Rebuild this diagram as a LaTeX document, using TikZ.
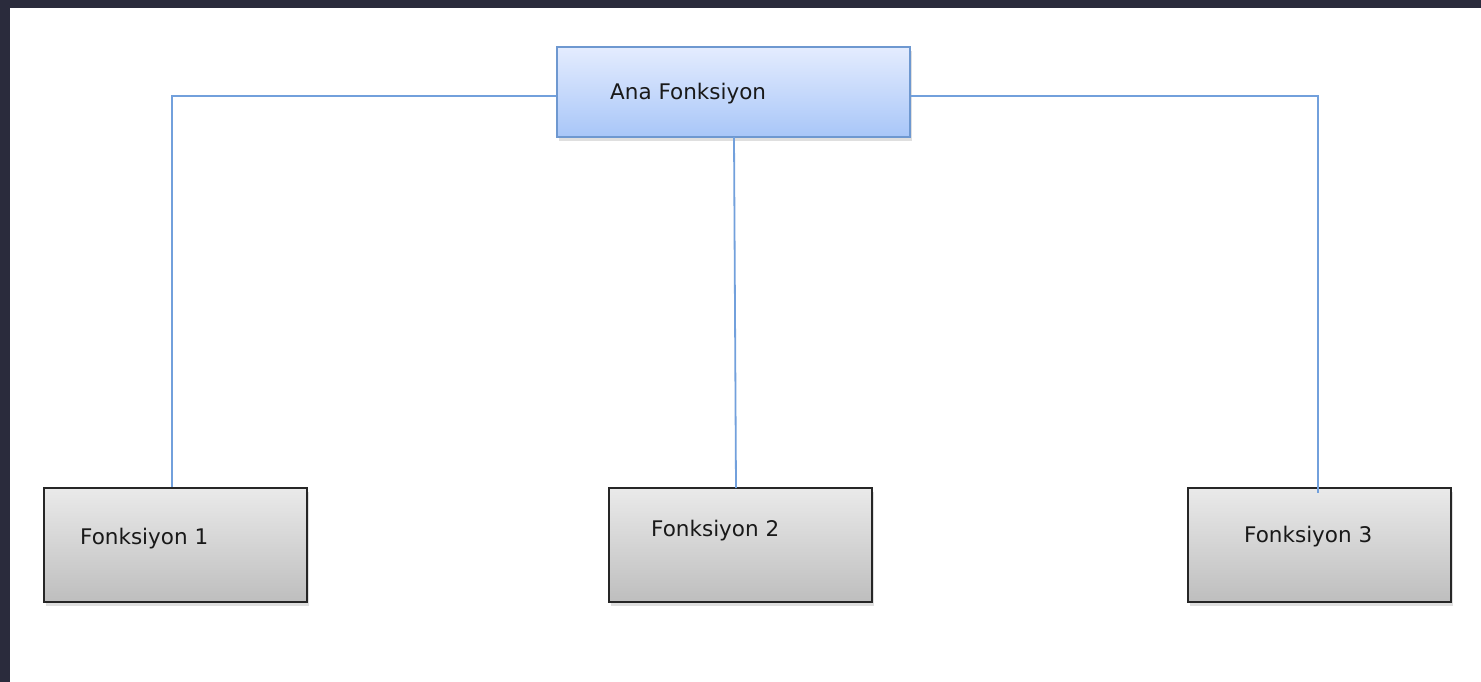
\documentclass[tikz,border=0pt]{standalone}
\usepackage{fontspec}
\setmainfont{DejaVu Sans}
\usetikzlibrary{shadows}
\definecolor{frame}{HTML}{2A2B3C}
\definecolor{linkc}{HTML}{72A0DC}
\definecolor{bluetop}{HTML}{E4ECFE}
\definecolor{bluebot}{HTML}{A8C6F8}
\definecolor{blueedge}{HTML}{6E98D0}
\definecolor{graytop}{HTML}{EAEAEA}
\definecolor{graybot}{HTML}{BEBEBE}
\tikzset{
  mainbox/.style={draw=blueedge, line width=1.8pt, top color=bluetop, bottom color=bluebot,
    minimum width=353pt, minimum height=90pt, inner sep=0pt,
    drop shadow={shadow xshift=2pt, shadow yshift=-4pt, opacity=0.25}},
  subbox/.style={draw=black!85, line width=1.8pt, top color=graytop, bottom color=graybot,
    minimum width=263pt, minimum height=114pt, inner sep=0pt,
    drop shadow={shadow xshift=2pt, shadow yshift=-4pt, opacity=0.25}},
  lbl/.style={anchor=west, inner sep=0pt, font=\fontsize{21.5}{23}\selectfont, text=black!90},
  link/.style={draw=linkc, line width=1.8pt}
}
\begin{document}
\begin{tikzpicture}[x=1pt, y=-1pt]
\useasboundingbox (0,0) rectangle (1481,682);
\fill[white] (0,0) rectangle (1481,682);
\fill[frame] (0,0) rectangle (1481,8);
\fill[frame] (0,0) rectangle (10,682);
% connector corners
\coordinate (cl) at (172,96);
\coordinate (cr) at (1318,96);
% boxes
\node[mainbox] (ana) at (733.5,92) {};
\node[subbox] (f1) at (175.5,545) {};
\node[subbox] (f2) at (740.5,545) {};
\node[subbox] (f3) at (1319.5,545) {};
% connectors
\draw[link] (ana.west |- cl) -- (cl) -- (cl |- f1.north);
\draw[link] (ana.east |- cr) -- (cr) -- ([yshift=-6pt]cr |- f3.north);
\draw[link] (734,137) -- (736,488);
% texts
\node[lbl] (t0) at (610,94) {Ana Fonksiyon};
\node[lbl] (t1) at (80,539) {Fonksiyon 1};
\node[lbl] (t2) at (651,531) {Fonksiyon 2};
\node[lbl] (t3) at (1244,537) {Fonksiyon 3};
\end{tikzpicture}
\end{document}
